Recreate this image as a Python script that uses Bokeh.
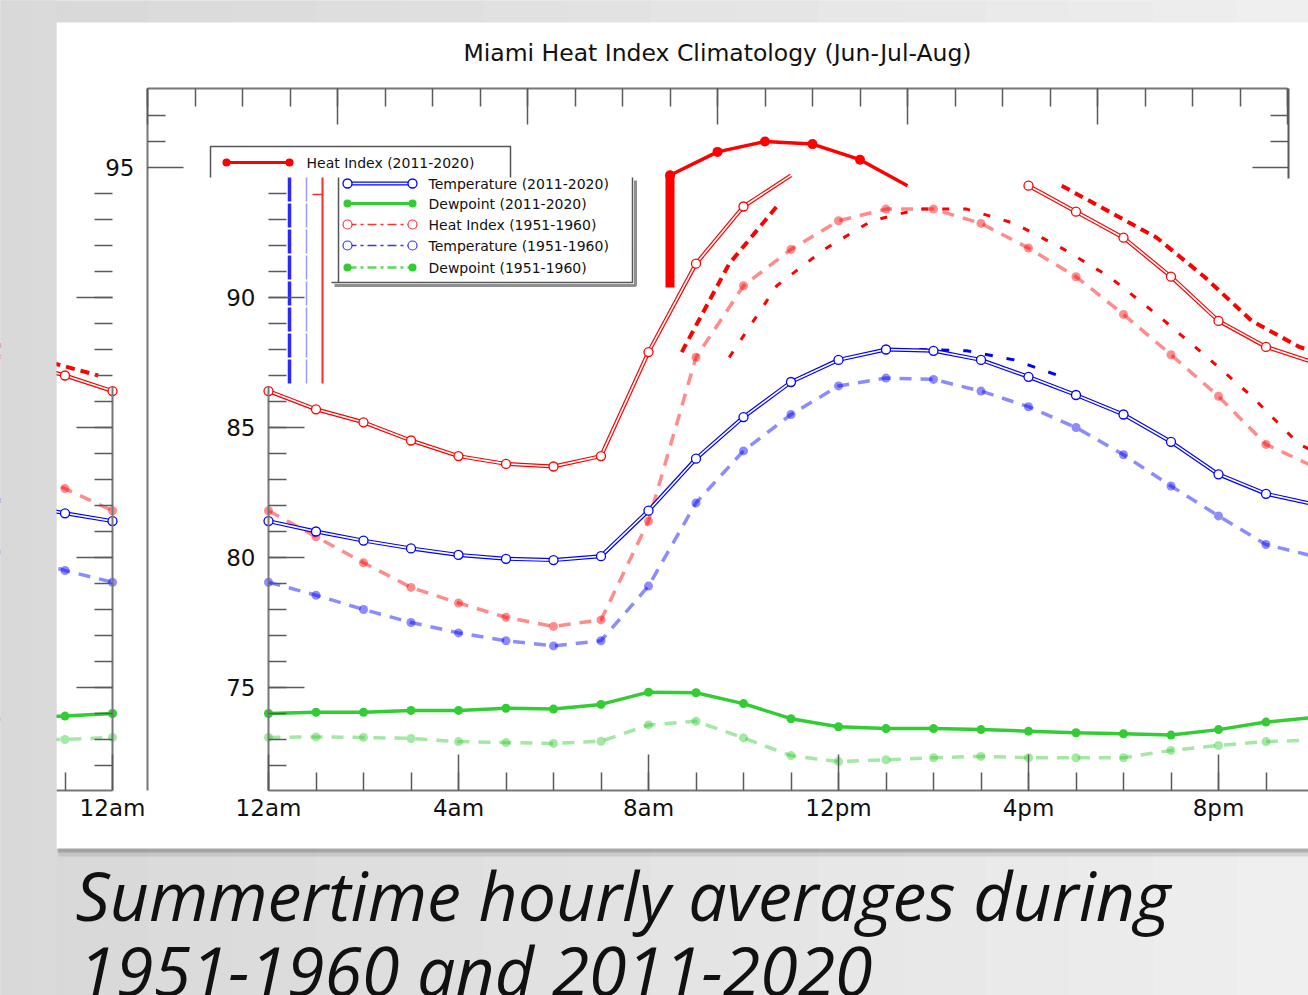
from bokeh.plotting import figure
from bokeh.models import (Range1d, LinearAxis, FixedTicker, CustomJSTickFormatter,
                          BoxAnnotation, Label)
from bokeh.embed import file_html
from bokeh.resources import INLINE

# ---------------- data ----------------
HOURS = list(range(24))
HOUR_LABELS = ["12am", "4am", "8am", "12pm", "4pm", "8pm", "12am"]
Y_TICKS = [75, 80, 85, 90, 95]

HI_2011 = [86.4, 85.7, 85.2, 84.5, 83.9, 83.6, 83.5, 83.9, 87.9, 91.3, 93.5, 94.7,
           95.6, 96.0, 95.9, 95.3, 94.3, 93.3, 92.3, 90.8, 89.1, 88.1, 87.5, 87.0]
TEMP_2011 = [81.4, 81.0, 80.65, 80.35, 80.1, 79.95, 79.9, 80.05, 81.8, 83.8, 85.4, 86.75,
             87.6, 88.0, 87.95, 87.6, 86.95, 86.25, 85.5, 84.45, 83.2, 82.45, 82.05, 81.7]
DEW_2011 = [74.0, 74.05, 74.05, 74.12, 74.12, 74.2, 74.17, 74.35, 74.82, 74.8, 74.38, 73.8,
            73.49, 73.42, 73.42, 73.38, 73.32, 73.26, 73.22, 73.17, 73.38, 73.67, 73.85, 73.9]
HI_1951 = [81.8, 80.8, 79.8, 78.85, 78.25, 77.7, 77.35, 77.6, 81.4, 87.7, 90.45, 91.85,
           92.95, 93.4, 93.4, 92.85, 91.9, 90.8, 89.35, 87.8, 86.2, 84.35, 83.5, 82.65]
TEMP_1951 = [79.05, 78.55, 78.0, 77.5, 77.1, 76.8, 76.6, 76.8, 78.9, 82.1, 84.1, 85.5,
             86.6, 86.9, 86.85, 86.4, 85.8, 85.0, 83.95, 82.75, 81.6, 80.5, 80.05, 79.5]
DEW_1951 = [73.08, 73.1, 73.08, 73.04, 72.92, 72.88, 72.85, 72.93, 73.56, 73.7, 73.06, 72.38,
            72.15, 72.22, 72.3, 72.35, 72.3, 72.3, 72.3, 72.58, 72.77, 72.92, 72.98, 73.0]

LEGEND_LABELS = ["Heat Index (2011-2020)", "Temperature (2011-2020)", "Dewpoint (2011-2020)",
                 "Heat Index (1951-1960)", "Temperature (1951-1960)", "Dewpoint (1951-1960)"]
TITLE = "Miami Heat Index Climatology (Jun-Jul-Aug)"
CAPTION = ["Summertime hourly averages during", "1951-1960 and 2011-2020"]

# ---------------- geometry helpers (reference pixel -> data) ----------------
X0, PXH = 268.0, 47.5
Y95, PXD = 167.0, 26.0
W, HGT = 1308, 995


def hx(px):
    return (px - X0) / PXH


def ty(py):
    return 95 - (py - Y95) / PXD


ORIG = hx(147)          # unshifted copy: 12am at x=147
STRIP = hx(112) - 24    # wrapped strip at the left
ECHO = 0.7

H = HOURS + [24]


def ext(v):
    return v + [v[0]]


RED, BLUE, GREEN = "#ff0000", "#0000ff", "#32cd32"
AXC = "#5a5a5a"

p = figure(width=W, height=HGT, x_range=Range1d(hx(0), hx(W)),
           y_range=Range1d(ty(HGT), ty(0)), output_backend="svg",
           toolbar_location=None, min_border=0,
           x_axis_location=None, y_axis_location=None)
p.grid.visible = False
p.outline_line_color = None
p.background_fill_color = "#e2e2e2"
p.border_fill_color = "#e2e2e2"

# slide background gradient
NB = 16
for i in range(NB):
    g = int(216 + (239 - 216) * i / (NB - 1))
    p.add_layout(BoxAnnotation(left=hx(-20 + i * 1340 / NB), right=hx(-20 + (i + 1) * 1340 / NB + 1),
                               top=ty(-20), bottom=ty(1020), fill_color=f"#{g:02x}{g:02x}{g:02x}",
                               fill_alpha=1, line_color=None, level="underlay"))
# card shadow + card
p.add_layout(BoxAnnotation(left=hx(58), right=hx(1330), top=ty(846), bottom=ty(856),
                           fill_color="#888888", fill_alpha=0.25, line_color=None, level="underlay"))
p.add_layout(BoxAnnotation(left=hx(57), right=hx(1330), top=ty(846), bottom=ty(852),
                           fill_color="#666666", fill_alpha=0.35, line_color=None, level="underlay"))
p.add_layout(BoxAnnotation(left=hx(56), right=hx(1330), top=ty(22), bottom=ty(848),
                           fill_color="white", fill_alpha=1, line_color=None, level="underlay"))


def hollow(xs, ys, color, markers=True, mx=None, my=None):
    p.line(xs, ys, line_color=color, line_width=4)
    p.line(xs, ys, line_color="white", line_width=1.6)
    if markers:
        p.scatter(xs if mx is None else mx, ys if my is None else my, size=9,
                  fill_color="white", line_color=color, line_width=1.3)


def dashed(xs, ys, color):
    p.line(xs, ys, line_color=color, line_alpha=0.45, line_width=3.5, line_dash="12 9")
    p.scatter(xs, ys, size=9, fill_color=color, fill_alpha=0.45, line_color=None)


def solid(xs, ys, color, w=3.5, s=9):
    p.line(xs, ys, line_color=color, line_width=w)
    p.scatter(xs, ys, size=s, fill_color=color, line_color=None)


# ---------- glitch echoes ----------
for a, b in [(8, 11), (16, 25)]:
    p.line([h + ECHO for h in H[a:b]], ext(HI_2011)[a:b], line_color=RED, line_width=4, line_dash="9 6")
p.line([h + ECHO for h in H[9:25]], ext(HI_1951)[9:25], line_color=RED, line_width=3, line_dash="7 14")
p.line([h + ECHO for h in H[13:17]], TEMP_2011[13:17], line_color=BLUE, line_width=3, line_dash="8 14")
p.line([h + STRIP + ECHO for h in H[20:24]], HI_2011[20:24], line_color=RED, line_width=4, line_dash="9 6")

# ---------- 1951-1960 series (main + wrapped strip) ----------
for series, color in [(DEW_1951, GREEN), (TEMP_1951, BLUE), (HI_1951, RED)]:
    dashed(H, ext(series), color)
    dashed([h + STRIP for h in H[20:25]], ext(series)[20:25], color)

# ---------- 2011-2020 series ----------
solid(H, ext(DEW_2011), GREEN)
solid([h + STRIP for h in H[20:25]], ext(DEW_2011)[20:25], GREEN)
hollow(H, ext(TEMP_2011), BLUE)
hollow([h + STRIP for h in H[20:25]], ext(TEMP_2011)[20:25], BLUE)
hollow(H[0:12], HI_2011[0:12], RED, mx=H[0:11], my=HI_2011[0:11])
hollow(H[16:25], ext(HI_2011)[16:25], RED)
hollow([h + STRIP for h in H[20:25]], ext(HI_2011)[20:25], RED)
# unshifted part of the heat index curve (top of chart)
p.line([h + ORIG for h in H[11:17]], HI_2011[11:17], line_color=RED, line_width=3.5)
p.scatter([h + ORIG for h in H[11:16]], HI_2011[11:16], size=10, fill_color=RED, line_color=None)
p.segment(x0=[11 + ORIG], y0=[HI_2011[11]], x1=[11 + ORIG], y1=[ty(287)], line_color=RED, line_width=9)

# glitch vertical streaks left of the legend
p.segment(x0=[hx(289)], y0=[ty(177)], x1=[hx(289)], y1=[ty(383)], line_color="#2a2aff", line_width=3.5, line_dash="24 2")
p.segment(x0=[hx(306)], y0=[ty(177)], x1=[hx(306)], y1=[ty(383)], line_color="#9a9aff", line_width=1.5, line_dash="24 2")
p.segment(x0=[hx(322)], y0=[ty(177)], x1=[hx(322)], y1=[ty(383)], line_color="#ff2a2a", line_width=2)
p.segment(x0=[hx(312)], y0=[ty(194)], x1=[hx(322)], y1=[ty(194)], line_color="#ff2a2a", line_width=1.5)

# ---------- legend (drawn by hand, split like the reference) ----------
p.multi_line(xs=[[hx(210), hx(210), hx(510), hx(510)], [hx(338), hx(338)], [hx(331), hx(632), hx(632)]],
             ys=[[ty(177), ty(146), ty(146), ty(177)], [ty(177), ty(282)], [ty(282), ty(282), ty(177)]],
             line_color="#555555", line_width=1.5)
p.multi_line(xs=[[hx(334), hx(635), hx(635)]], ys=[[ty(285), ty(285), ty(180)]],
             line_color="#333333", line_alpha=0.55, line_width=3)
row_y = [162, 183, 203, 224, 245, 267]
row_x = [(226, 289, 306)] + [(347, 412, 428)] * 5
for i, lab in enumerate(LEGEND_LABELS):
    x1, x2, xt = row_x[i]
    lx, ly = [hx(x1), hx(x2)], [ty(row_y[i])] * 2
    if i == 0:
        solid(lx, ly, RED, w=3, s=8)
    elif i == 1:
        hollow(lx, ly, BLUE)
    elif i == 2:
        solid(lx, ly, GREEN, w=3, s=8)
    else:
        c = [RED, BLUE, GREEN][i - 3]
        p.line(lx, ly, line_color=c, line_width=1.6 if i < 5 else 2.5, line_dash="9 4 3 4",
               line_alpha=0.8)
        if i < 5:
            p.scatter(lx, ly, size=9, fill_color="white", line_color=c, line_width=1.2, line_alpha=0.8)
        else:
            p.scatter(lx, ly, size=8, fill_color=c, line_color=None)
    p.add_layout(Label(x=hx(xt), y=ty(row_y[i]), text=lab, text_font="DejaVu Sans",
                       text_font_size="14px", text_color="#111111", text_baseline="middle"))

# ---------- axes ----------
def yaxis(loc, bounds, major, minor, tin, tout, labels, side="left", line=False):
    ax = LinearAxis(fixed_location=loc, bounds=bounds,
                    ticker=FixedTicker(ticks=major, minor_ticks=minor),
                    major_tick_in=tin, major_tick_out=tout,
                    minor_tick_in=tin // 2, minor_tick_out=tout // 2,
                    major_tick_line_color=AXC, minor_tick_line_color=AXC,
                    major_tick_line_width=1.5, minor_tick_line_width=1.5,
                    axis_line_color=AXC if line else None, axis_line_width=2,
                    major_label_text_font="DejaVu Sans", major_label_text_font_size="23px",
                    major_label_text_color="#111111", major_label_standoff=13)
    if not labels:
        ax.formatter = CustomJSTickFormatter(code="return ''")
    p.add_layout(ax, side)


yaxis(0, (ty(790), ty(192)), Y_TICKS[:4], list(range(72, 95)), 36, 0, True)
yaxis(hx(112), (ty(790), ty(192)), Y_TICKS[:4], list(range(72, 95)), 0, 36, False)
yaxis(ORIG, (ty(178), ty(88)), Y_TICKS[4:], [96, 97], 36, 0, True)
yaxis(hx(1288), (ty(178), ty(88)), Y_TICKS[4:], [96, 97], 36, 0, False, side="right", line=True)

# axis lines drawn separately where the reference shows them
p.segment(x0=[ORIG, 0, hx(112)], y0=[ty(88), ty(386), ty(386)],
          x1=[ORIG, 0, hx(112)], y1=[ty(790), ty(790), ty(790)], line_color="#777777", line_width=2)

top = LinearAxis(fixed_location=ty(88), bounds=(ORIG, ORIG + 24),
                 ticker=FixedTicker(ticks=[k + ORIG for k in range(0, 25, 4)],
                                    minor_ticks=[k + ORIG for k in range(25)]),
                 major_tick_in=36, major_tick_out=0, minor_tick_in=18, minor_tick_out=0,
                 major_tick_line_color=AXC, minor_tick_line_color=AXC,
                 major_tick_line_width=1.5, minor_tick_line_width=1.5,
                 axis_line_color="#777777", axis_line_width=2,
                 formatter=CustomJSTickFormatter(code="return ''"))
p.add_layout(top, "above")

bottom = LinearAxis(fixed_location=ty(790), bounds=(0, 24),
                    ticker=FixedTicker(ticks=list(range(0, 25, 4)), minor_ticks=list(range(25))),
                    major_tick_in=36, major_tick_out=0, minor_tick_in=18, minor_tick_out=0,
                    major_tick_line_color=AXC, minor_tick_line_color=AXC,
                    major_tick_line_width=1.5, minor_tick_line_width=1.5,
                    axis_line_color="#777777", axis_line_width=2,
                    major_label_text_font="DejaVu Sans", major_label_text_font_size="23px",
                    major_label_text_color="#111111", major_label_standoff=4,
                    formatter=CustomJSTickFormatter(args=dict(labels=HOUR_LABELS),
                                                    code="return labels[Math.round(tick / 4)] || ''"))
p.add_layout(bottom, "below")

strip_axis = LinearAxis(fixed_location=ty(790), bounds=(hx(56), hx(112)),
                        ticker=FixedTicker(ticks=[24 + STRIP], minor_ticks=[22 + STRIP, 23 + STRIP]),
                        major_tick_in=36, major_tick_out=0, minor_tick_in=18, minor_tick_out=0,
                        major_tick_line_color=AXC, minor_tick_line_color=AXC,
                        major_tick_line_width=1.5, minor_tick_line_width=1.5,
                        axis_line_color="#777777", axis_line_width=2,
                        major_label_text_font="DejaVu Sans", major_label_text_font_size="23px",
                        major_label_text_color="#111111", major_label_standoff=4,
                        formatter=CustomJSTickFormatter(args=dict(labels=HOUR_LABELS),
                                                        code="return labels[0]"))
p.add_layout(strip_axis, "below")

# mask everything left of the card (wrapped strip overflow)
for i in range(3):
    g = 216 + i
    p.add_layout(BoxAnnotation(left=hx(-20 + i * 25), right=hx(56 if i == 2 else -20 + (i + 1) * 25 + 1),
                               top=ty(-20), bottom=ty(1020), fill_color=f"#{g:02x}{g:02x}{g:02x}",
                               fill_alpha=1, line_color=None, level="annotation"))

# ---------- texts ----------
p.add_layout(Label(x=hx(717), y=ty(52), text=TITLE, text_font="DejaVu Sans", text_font_size="23.5px",
                   text_color="#111111", text_align="center", text_baseline="middle"))
p.add_layout(Label(x=hx(75), y=ty(894), text=CAPTION[0], text_font="Open Sans", text_font_style="italic",
                   text_font_size="68px", text_color="#111111", text_baseline="alphabetic"))
p.add_layout(Label(x=hx(78), y=ty(969), text=CAPTION[1], text_font="Open Sans", text_font_style="italic",
                   text_font_size="68px", text_color="#111111", text_baseline="alphabetic"))

open("out.html", "w").write(file_html(p, INLINE))
